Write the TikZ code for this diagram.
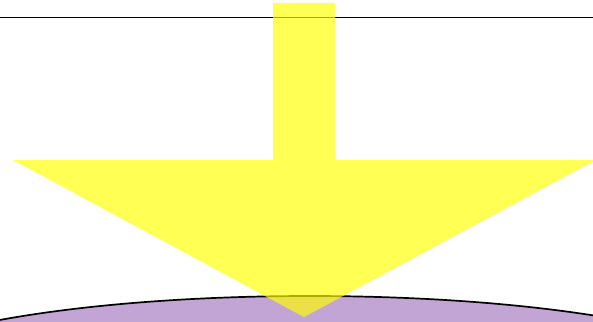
\documentclass[tikz,border=0pt]{standalone}
\usepackage{xcolor}
\usepackage{tikz}
\definecolor{lilac}{RGB}{195,165,213}
\definecolor{arrowyellow}{RGB}{255,255,0}

\begin{document}
\begin{tikzpicture}[x=1pt, y=-1pt,
  ground/.style={fill=lilac, draw=black, line width=1.7pt},
  bigarrow/.style={fill=arrowyellow, fill opacity=0.67, draw=none}]
  % frame: 593 x 321 px, y grows downwards
  \useasboundingbox (0,0) rectangle (593,321);
  \begin{scope}
    \clip (0,0) rectangle (593,321);
    % surface (large ellipse, mostly below the frame)
    \draw[ground] (310,383) ellipse [x radius=450, y radius=87];
    % horizontal line near the top
    \draw[line width=1.8pt] (0,17.5) -- (593,17.5);
    % down arrow drawn on top
    \fill[bigarrow] (273,3) -- (335,3) -- (335,160) -- (596,160)
      -- (304,317) -- (13,160) -- (273,160) -- cycle;
  \end{scope}
\end{tikzpicture}
\end{document}
